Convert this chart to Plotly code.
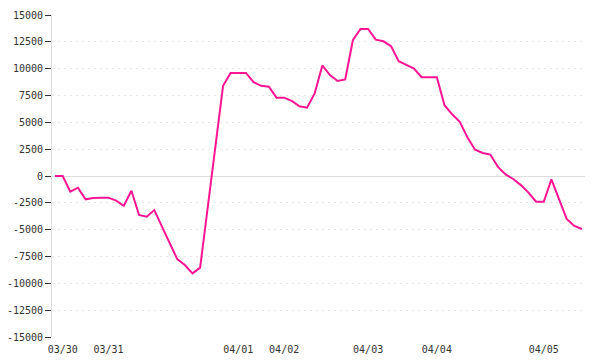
import plotly.graph_objects as go

values = [0, 0, -1460, -1090, -2170, -2050, -2020, -2020, -2300, -2770,
          -1370, -3630, -3790, -3170, -4720, -6270, -7740, -8290, -9070, -8540,
          -2900, 2700, 8400, 9600, 9600, 9600, 8750, 8400, 8320, 7300,
          7300, 7000, 6500, 6370, 7700, 10300, 9400, 8850, 9000, 12650,
          13700, 13700, 12700, 12550, 12100, 10700, 10350, 10000, 9200, 9200,
          9200, 6600, 5750, 5050, 3600, 2450, 2150, 2000, 850, 150,
          -280, -850, -1550, -2400, -2400, -310, -2100, -4000, -4650, -4940]
idx = list(range(len(values)))

date_pos = [1, 7, 24, 30, 41, 50, 64]
date_labels = ["03/30", "03/31", "04/01", "04/02", "04/03", "04/04", "04/05"]

y_ticks = [15000, 12500, 10000, 7500, 5000, 2500, 0, -2500, -5000, -7500, -10000, -12500, -15000]
y_labels = [str(v) for v in y_ticks]

fig = go.Figure()
fig.add_trace(go.Scatter(x=idx, y=values, mode="lines",
                         line=dict(color="#ff1493", width=2), hoverinfo="skip"))

font = dict(family="DejaVu Sans Mono", size=10, color="#333333")
fig.update_layout(
    width=600, height=360,
    margin=dict(l=52, r=15, t=15, b=23),
    paper_bgcolor="white", plot_bgcolor="white",
    showlegend=False,
    font=font,
)
fig.update_xaxes(
    range=[-0.4, 69.4],
    tickmode="array", tickvals=date_pos, ticktext=date_labels,
    showgrid=False, zeroline=False, showline=False,
    ticks="", tickfont=font, ticklabelstandoff=5, automargin=False,
)
fig.update_yaxes(
    range=[-15000, 15000],
    tickmode="array", tickvals=y_ticks, ticktext=y_labels,
    showgrid=True, gridcolor="#e6e6e6", griddash="2px,4px", gridwidth=1,
    zeroline=True, zerolinecolor="#dddddd", zerolinewidth=1,
    showline=True, linecolor="#dddddd", linewidth=1,
    ticks="outside", ticklen=6, tickcolor="#333333", tickfont=font,
    automargin=False,
)
fig.write_html("out.html")
